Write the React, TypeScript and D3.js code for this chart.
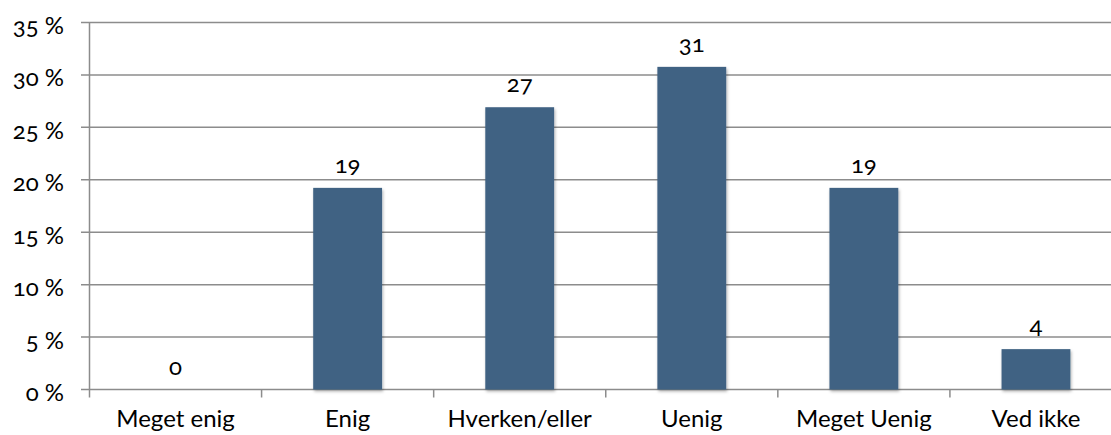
import React from "react";
import * as d3 from "d3";

const categories = ["Meget enig", "Enig", "Hverken/eller", "Uenig", "Meget Uenig", "Ved ikke"];
const values = [0, 19.23, 26.92, 30.77, 19.23, 3.85];
const labels = ["0", "19", "27", "31", "19", "4"];
const yTicks = [0, 5, 10, 15, 20, 25, 30, 35];

const W = 1111;
const H = 435;
const FONT = "Lato, 'Open Sans', sans-serif";

export default function App() {
  const x = d3.scaleBand<string>().domain(categories).range([89.5, 1122]).paddingInner(0.6).paddingOuter(0.3);
  const y = d3.scaleLinear().domain([0, 35]).range([389.5, 22.5]);
  const step = x.step();
  const x0 = x.range()[0];
  const boundaries = d3.range(categories.length + 1).map((i) => x0 + i * step);
  const grid = "#8c8c8c";
  return (
    <svg width={W} height={H} style={{ position: "absolute", left: 0, top: 0, background: "#fff" }}>
      <defs>
        <filter id="sh" x="-20%" y="-20%" width="140%" height="140%">
          <feDropShadow dx="1" dy="2" stdDeviation="1.5" floodColor="#000" floodOpacity="0.3" />
        </filter>
      </defs>
      {yTicks.map((t) => (
        <g key={t}>
          <line x1={81} x2={W} y1={y(t)} y2={y(t)} stroke={grid} strokeWidth={1.5} />
          <text
            x={64}
            y={y(t) + 2}
            textAnchor="end"
            dominantBaseline="central"
            fontFamily={FONT}
            fontSize={24}
            style={{ fontVariantNumeric: "oldstyle-nums" }}
            fill="#000"
          >
            {t} %
          </text>
        </g>
      ))}
      <line x1={89.5} x2={89.5} y1={y(35)} y2={y(0)} stroke={grid} strokeWidth={1.5} />
      {boundaries.map((b, i) => (
        <line key={i} x1={b} x2={b} y1={y(0)} y2={y(0) + 8} stroke={grid} strokeWidth={1.5} />
      ))}
      {categories.map((c, i) => (
        <g key={c}>
          {values[i] > 0 && (
            <rect
              x={x(c)}
              y={y(values[i])}
              width={x.bandwidth()}
              height={y(0) - y(values[i])}
              fill="#3f6283"
              filter="url(#sh)"
            />
          )}
          <text
            x={(x(c) as number) + x.bandwidth() / 2}
            y={y(values[i]) - 15}
            textAnchor="middle"
            fontFamily={FONT}
            fontSize={24}
            style={{ fontVariantNumeric: "oldstyle-nums" }}
            fill="#000"
          >
            {labels[i]}
          </text>
          <text
            x={(x(c) as number) + x.bandwidth() / 2}
            y={427}
            textAnchor="middle"
            fontFamily={FONT}
            fontSize={24}
            fill="#000"
          >
            {c}
          </text>
        </g>
      ))}
    </svg>
  );
}
